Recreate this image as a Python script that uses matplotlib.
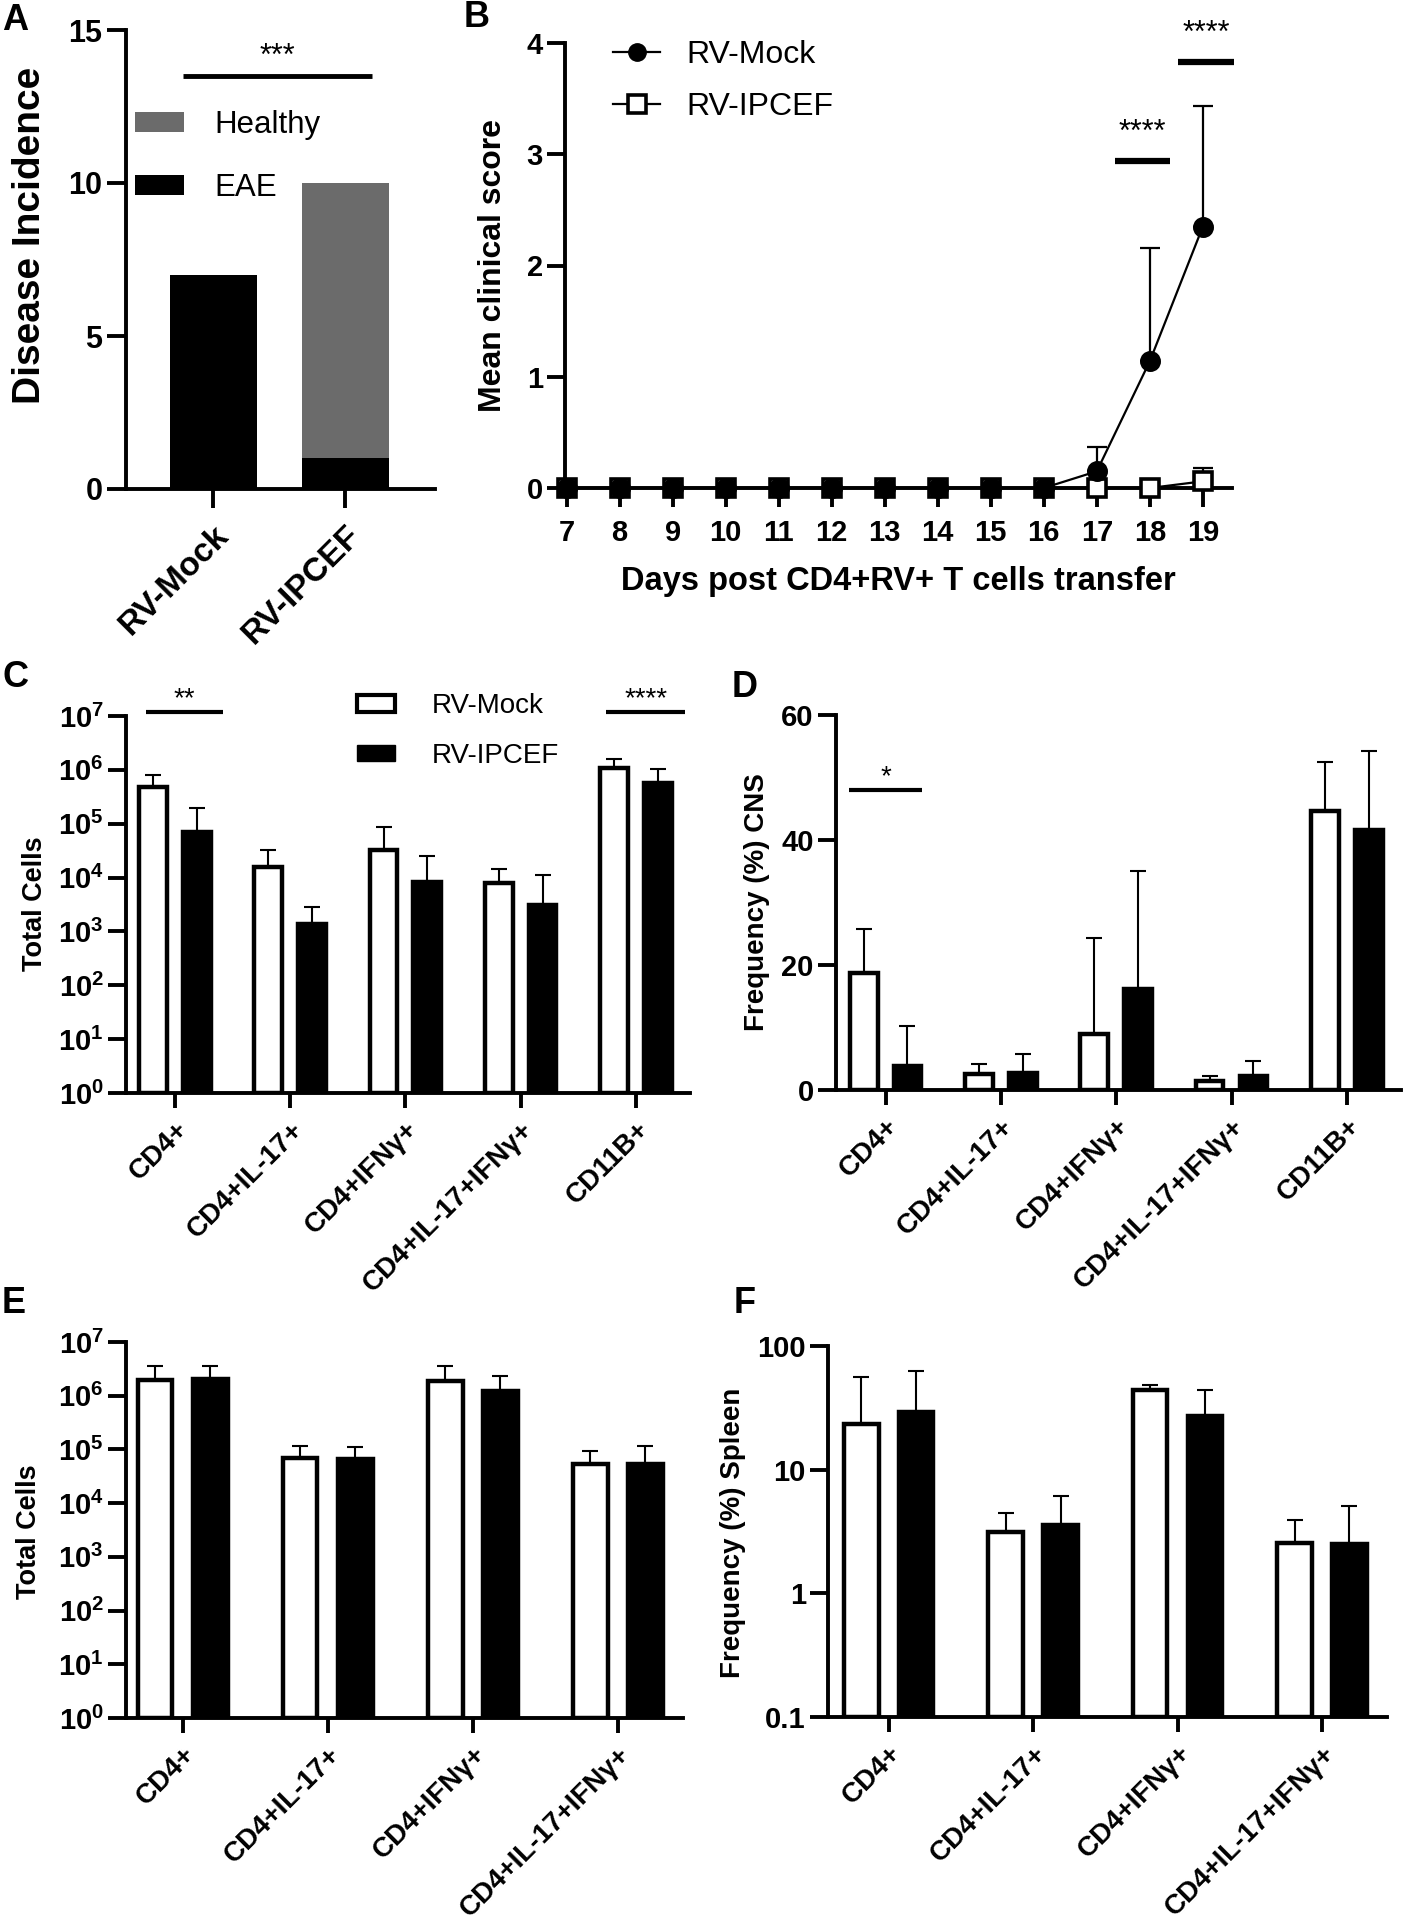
import numpy as np
import matplotlib
matplotlib.use("Agg")
import matplotlib.pyplot as plt
from matplotlib.patches import Patch
from matplotlib.lines import Line2D
from matplotlib.ticker import NullLocator

plt.rcParams['font.family'] = ['Liberation Sans', 'DejaVu Sans']
plt.rcParams['font.weight'] = 'bold'
plt.rcParams['axes.labelweight'] = 'bold'
plt.rcParams['mathtext.fontset'] = 'custom'
plt.rcParams['mathtext.bf'] = 'Liberation Sans:bold'
plt.rcParams['mathtext.rm'] = 'Liberation Sans:bold'

# ---- A: disease incidence
incidence_groups = ['RV-Mock', 'RV-IPCEF']
eae_counts = [7, 1]
healthy_counts = [0, 9]

# ---- B: clinical score
days = [7, 8, 9, 10, 11, 12, 13, 14, 15, 16, 17, 18, 19]
mock_score = [0, 0, 0, 0, 0, 0, 0, 0, 0, 0, 0.15, 1.14, 2.35]
mock_score_sd = [0, 0, 0, 0, 0, 0, 0, 0, 0, 0, 0.22, 1.02, 1.08]
ipcef_score = [0, 0, 0, 0, 0, 0, 0, 0, 0, 0, 0, 0, 0.06]
ipcef_score_sd = [0, 0, 0, 0, 0, 0, 0, 0, 0, 0, 0, 0, 0.12]

# ---- C / D: CNS
cns_cats = ['CD4+', 'CD4+IL-17+', 'CD4+IFNγ+', 'CD4+IL-17+IFNγ+', 'CD11B+']
cns_cells_mock = [4.8e5, 1.55e4, 3.2e4, 7.9e3, 1.1e6]
cns_cells_mock_sd = [3.1e5, 1.75e4, 5.6e4, 6.3e3, 5.0e5]
cns_cells_ipcef = [7.0e4, 1.35e3, 8.4e3, 3.1e3, 5.8e5]
cns_cells_ipcef_sd = [1.3e5, 1.45e3, 1.66e4, 8.1e3, 4.7e5]

cns_freq_mock = [18.7, 2.6, 9.0, 1.5, 44.6]
cns_freq_mock_sd = [7.0, 1.5, 15.4, 0.7, 7.9]
cns_freq_ipcef = [3.8, 2.7, 16.1, 2.3, 41.6]
cns_freq_ipcef_sd = [6.5, 3.1, 18.9, 2.4, 12.7]

# ---- E / F: spleen
spl_cats = ['CD4+', 'CD4+IL-17+', 'CD4+IFNγ+', 'CD4+IL-17+IFNγ+']
spl_cells_mock = [1.92e6, 6.9e4, 1.86e6, 5.4e4]
spl_cells_mock_sd = [1.58e6, 4.6e4, 1.64e6, 3.9e4]
spl_cells_ipcef = [2.07e6, 6.6e4, 1.22e6, 5.4e4]
spl_cells_ipcef_sd = [1.43e6, 4.7e4, 1.08e6, 6.1e4]

spl_freq_mock = [23.4, 3.16, 44.2, 2.57]
spl_freq_mock_sd = [32.6, 1.34, 4.0, 1.33]
spl_freq_ipcef = [29.3, 3.6, 27.4, 2.5]
spl_freq_ipcef_sd = [33.7, 2.5, 16.6, 2.6]

W, H = 1404, 1920
fig = plt.figure(figsize=(W / 100, H / 100), dpi=100)
LW = 2.8


def px_axes(left, right, top, bottom):
    return fig.add_axes([left / W, 1 - bottom / H, (right - left) / W, (bottom - top) / H])


def fig_text(x, y, s, **kw):
    fig.text(x / W, 1 - y / H, s, **kw)


def prism(ax, ysize=21, xsize=20, ylen=13, xlen=11, xpad=6):
    ax.spines[['top', 'right']].set_visible(False)
    ax.spines[['left', 'bottom']].set_linewidth(LW)
    ax.tick_params(axis='y', length=ylen, width=LW, pad=3, labelsize=ysize)
    ax.tick_params(axis='x', length=xlen, width=LW, pad=xpad, labelsize=xsize)
    ax.yaxis.set_minor_locator(NullLocator())
    ax.xaxis.set_minor_locator(NullLocator())


def grouped_bars(ax, cats, mock, mock_sd, ipcef, ipcef_sd, base):
    x = np.arange(len(cats))
    for off, vals, sd, face in [(-0.19, mock, mock_sd, 'white'), (0.19, ipcef, ipcef_sd, 'black')]:
        vals = np.asarray(vals, float)
        ax.bar(x + off, vals - base, bottom=base, width=0.24, facecolor=face,
               edgecolor='black', linewidth=3.2, zorder=2)
        ax.errorbar(x + off, vals, yerr=[np.zeros_like(vals), sd], fmt='none', ecolor='black',
                    elinewidth=1.5, capsize=5.5, capthick=1.5, zorder=1)
    ax.set_xticks(x)
    ax.set_xticklabels(cats, rotation=45, ha='right', rotation_mode='anchor')


def sig(ax, x0, x1, y, stars, lw=3.0, size=20, dy=0.0):
    ax.plot([x0, x1], [y, y], color='black', lw=lw, clip_on=False, solid_capstyle='butt')
    ax.text((x0 + x1) / 2, y + dy, stars, ha='center', va='bottom', fontsize=size, weight='normal')


# ---------------- A
ax = px_axes(126, 435, 30, 489)
xa = np.arange(len(incidence_groups))
bar_eae = ax.bar(xa, eae_counts, width=0.66, color='black', label='EAE')
bar_h = ax.bar(xa, healthy_counts, bottom=eae_counts, width=0.66, color='#6b6b6b', label='Healthy')
ax.set_xlim(-0.66, 1.68)
ax.set_ylim(0, 15)
ax.set_yticks([0, 5, 10, 15])
ax.set_xticks(xa)
ax.set_xticklabels(incidence_groups, rotation=45, ha='right', rotation_mode='anchor')
prism(ax, ysize=22, xsize=24, ylen=14, xlen=14, xpad=8)
ax.legend([bar_h, bar_eae], ['Healthy', 'EAE'], loc='upper left', bbox_to_anchor=(0.03, 0.825),
          frameon=False, prop={'weight': 'normal', 'size': 22.5}, handlelength=1.55, handleheight=0.6,
          handletextpad=0.97, labelspacing=1.05, borderpad=0, borderaxespad=0)
sig(ax, -0.23, 1.2, 13.5, '***', lw=3.5, size=22, dy=0.13)
fig_text(30, 235, 'Disease Incidence', rotation=90, ha='center', va='center', fontsize=28)
fig_text(2, 3, 'A', fontsize=26, va='top', ha='left')

# ---------------- B
ax = px_axes(565, 1232, 43, 488)
d = np.asarray(days)
for mean, sd, marker, face, ms, z in [(ipcef_score, ipcef_score_sd, 's', 'white', 13, 3),
                                       (mock_score, mock_score_sd, 'o', 'black', 12.5, 4)]:
    mean = np.asarray(mean)
    sd = np.asarray(sd)
    ax.plot(d, mean, color='black', lw=1.6, marker=marker, ms=ms, mfc=face, mec='black',
            mew=2.6, clip_on=False, zorder=z)
    m = sd > 0
    ax.errorbar(d[m], mean[m], yerr=[np.zeros(m.sum()), sd[m]], fmt='none', ecolor='black',
                elinewidth=1.6, capsize=7, capthick=1.6, zorder=z - 1, clip_on=False)
ax.set_xlim(6.97, 19.55)
ax.set_ylim(0, 4)
ax.set_yticks([0, 1, 2, 3, 4])
ax.set_xticks(days)
prism(ax, ysize=21, xsize=21, ylen=13, xlen=14, xpad=8)
ax.set_xlabel('Days post CD4+RV+ T cells transfer', fontsize=23.5, fontweight='bold', labelpad=14)
handles = [Line2D([], [], color='black', lw=1.6, marker='o', ms=12.5, mfc='black'),
           Line2D([], [], color='black', lw=1.6, marker='s', ms=13, mfc='white', mew=2.6)]
ax.legend(handles, ['RV-Mock', 'RV-IPCEF'], loc='upper left', bbox_to_anchor=(0.072, 1.007),
          frameon=False, prop={'weight': 'normal', 'size': 23}, handlelength=1.47,
          handletextpad=0.84, labelspacing=0.69, borderpad=0, borderaxespad=0)
sig(ax, 17.34, 18.39, 2.94, '****', lw=4.5, size=22, dy=0.12)
sig(ax, 18.54, 19.59, 3.83, '****', lw=4.5, size=22, dy=0.12)
fig_text(493, 265, 'Mean clinical score', rotation=90, ha='center', va='center', fontsize=23)
fig_text(464, 0, 'B', fontsize=26, va='top', ha='left')

# ---------------- C
ax = px_axes(126, 690, 716, 1093)
ax.set_yscale('log')
grouped_bars(ax, cns_cats, cns_cells_mock, cns_cells_mock_sd, cns_cells_ipcef, cns_cells_ipcef_sd, 1)
ax.set_ylim(1, 1e7)
ax.set_xlim(-0.425, 4.47)
ax.set_yticks([10.0 ** k for k in range(8)])
ax.set_yticklabels([r'$\mathbf{10^{%d}}$' % k for k in range(8)])
prism(ax)
ax.legend([Patch(facecolor='white', edgecolor='black', linewidth=3),
           Patch(facecolor='black', edgecolor='black')], ['RV-Mock', 'RV-IPCEF'],
          loc='upper left', bbox_to_anchor=(0.41, 1.06), frameon=False,
          prop={'weight': 'normal', 'size': 20}, handlelength=1.37, handleheight=0.52,
          handletextpad=1.3, labelspacing=0.85, borderpad=0, borderaxespad=0)
sig(ax, -0.25, 0.42, 1.19e7, '**')
sig(ax, 3.74, 4.43, 1.19e7, '****')
fig_text(35, 904, 'Total Cells', rotation=90, ha='center', va='center', fontsize=19.5)
fig_text(2, 660, 'C', fontsize=26, va='top', ha='left')

# ---------------- D
ax = px_axes(836, 1401, 715, 1090)
grouped_bars(ax, cns_cats, cns_freq_mock, cns_freq_mock_sd, cns_freq_ipcef, cns_freq_ipcef_sd, 0)
ax.set_ylim(0, 60)
ax.set_xlim(-0.43, 4.47)
ax.set_yticks([0, 20, 40, 60])
prism(ax)
sig(ax, -0.32, 0.32, 48, '*')
fig_text(757, 902, 'Frequency (%) CNS', rotation=90, ha='center', va='center', fontsize=20)
fig_text(732, 670, 'D', fontsize=26, va='top', ha='left')

# ---------------- E
ax = px_axes(126, 683, 1342, 1718)
ax.set_yscale('log')
grouped_bars(ax, spl_cats, spl_cells_mock, spl_cells_mock_sd, spl_cells_ipcef, spl_cells_ipcef_sd, 1)
ax.set_ylim(1, 1e7)
ax.set_xlim(-0.39, 3.45)
ax.set_yticks([10.0 ** k for k in range(8)])
ax.set_yticklabels([r'$\mathbf{10^{%d}}$' % k for k in range(8)])
prism(ax)
fig_text(29, 1532, 'Total Cells', rotation=90, ha='center', va='center', fontsize=19.5)
fig_text(2, 1286, 'E', fontsize=26, va='top', ha='left')

# ---------------- F
ax = px_axes(828, 1387, 1346, 1717)
ax.set_yscale('log')
grouped_bars(ax, spl_cats, spl_freq_mock, spl_freq_mock_sd, spl_freq_ipcef, spl_freq_ipcef_sd, 0.1)
ax.set_ylim(0.1, 100)
ax.set_xlim(-0.42, 3.45)
ax.set_yticks([0.1, 1, 10, 100])
ax.set_yticklabels(['0.1', '1', '10', '100'])
prism(ax)
fig_text(733, 1533, 'Frequency (%) Spleen', rotation=90, ha='center', va='center', fontsize=20)
fig_text(734, 1286, 'F', fontsize=26, va='top', ha='left')

fig.savefig('out.png', dpi=100)
